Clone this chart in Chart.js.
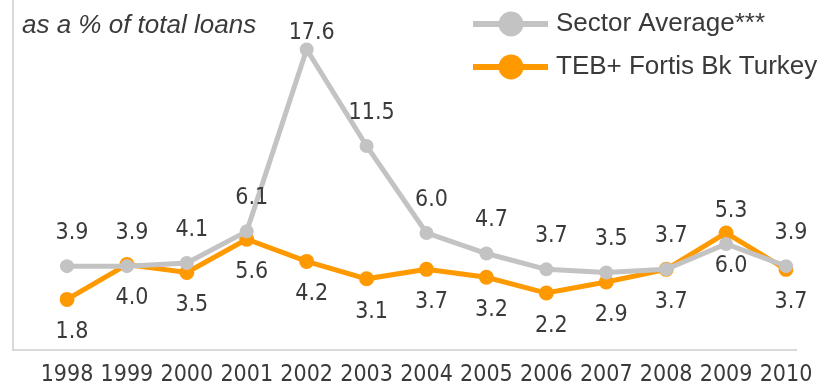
<!DOCTYPE html>
<html>
<head>
<meta charset="utf-8">
<script src="https://cdn.jsdelivr.net/npm/chart.js@4.4.1/dist/chart.umd.min.js"></script>
<style>
  html, body { margin: 0; padding: 0; background: #fff; }
  #wrap { width: 838px; height: 387px; position: relative; }
</style>
</head>
<body>
<div id="wrap"><canvas id="loanChart"></canvas></div>
<script>
var years = ['1998', '1999', '2000', '2001', '2002', '2003', '2004', '2005', '2006', '2007', '2008', '2009', '2010'];
var sectorAverage = [3.9, 3.9, 4.1, 6.1, 17.6, 11.5, 6.0, 4.7, 3.7, 3.5, 3.7, 5.3, 3.9];
var tebFortis = [1.8, 4.0, 3.5, 5.6, 4.2, 3.1, 3.7, 3.2, 2.2, 2.9, 3.7, 6.0, 3.7];

var narrowFont = '"DejaVu Sans Condensed", "Liberation Sans Narrow", sans-serif';
var textColor = '#3a3a3a';

// frame, subtitle, legend and value labels
var decorations = {
    id: 'decorations',
    beforeDatasetsDraw: function(chart) {
        var c = chart.ctx;
        var area = chart.chartArea;
        c.save();
        c.strokeStyle = '#d9d9d9';
        c.lineWidth = 2;
        c.beginPath();
        c.moveTo(13, 0);
        c.lineTo(13, area.bottom);
        c.lineTo(797, area.bottom);
        c.stroke();
        c.restore();
    },
    afterDatasetsDraw: function(chart) {
        var c = chart.ctx;
        c.save();

        // value labels
        c.font = '23px ' + narrowFont;
        c.fillStyle = textColor;
        c.textAlign = 'center';
        c.textBaseline = 'middle';
        chart.data.datasets.forEach(function(ds, i) {
            var meta = chart.getDatasetMeta(i);
            meta.data.forEach(function(pt, j) {
                var y = i === 0 ? Math.max(pt.y - 33, 33) : pt.y + 33;
                c.fillText(ds.data[j].toFixed(1), pt.x + 5, y);
            });
        });

        // subtitle
        c.font = 'italic 26px "Liberation Sans", Arial, sans-serif';
        c.textAlign = 'left';
        c.fillText('as a % of total loans', 22, 26);

        // legend
        var rows = [24, 67];
        chart.data.datasets.forEach(function(ds, i) {
            var y = rows[i];
            c.strokeStyle = ds.borderColor;
            c.lineWidth = 6;
            c.beginPath();
            c.moveTo(473, y);
            c.lineTo(548, y);
            c.stroke();
            c.fillStyle = ds.borderColor;
            c.beginPath();
            c.arc(511, y, 12.5, 0, Math.PI * 2);
            c.fill();
            c.fillStyle = textColor;
            c.font = '26px "Liberation Sans", Arial, sans-serif';
            c.fillText(ds.label, 556, y);
        });
        c.restore();
    }
};

var ctx = document.getElementById('loanChart').getContext('2d');
var loanChart = new Chart(ctx, {
    type: 'line',
    data: {
        labels: years,
        datasets: [{
            label: 'Sector Average***',
            data: sectorAverage,
            borderColor: '#c3c3c3',
            backgroundColor: '#c3c3c3',
            borderWidth: 5,
            pointRadius: 7,
            pointBorderWidth: 0,
            fill: false,
            tension: 0
        }, {
            label: 'TEB+ Fortis Bk Turkey',
            data: tebFortis,
            borderColor: '#ff9900',
            backgroundColor: '#ff9900',
            borderWidth: 5,
            pointRadius: 7.5,
            pointBorderWidth: 0,
            fill: false,
            tension: 0
        }]
    },
    options: {
        responsive: true,
        maintainAspectRatio: false,
        animation: false,
        layout: {
            padding: { left: 67, right: 52, top: 11.5, bottom: 0 }
        },
        plugins: {
            legend: { display: false },
            tooltip: { enabled: false }
        },
        scales: {
            x: {
                offset: false,
                grid: { display: false },
                border: { display: false },
                afterFit: function(scale) { scale.height = 37; },
                ticks: {
                    padding: 3,
                    color: textColor,
                    font: { family: narrowFont, size: 23 },
                    maxRotation: 0,
                    autoSkip: false
                }
            },
            y: {
                display: false,
                min: -1.4,
                max: 20
            }
        }
    },
    plugins: [decorations]
});
</script>
</body>
</html>
